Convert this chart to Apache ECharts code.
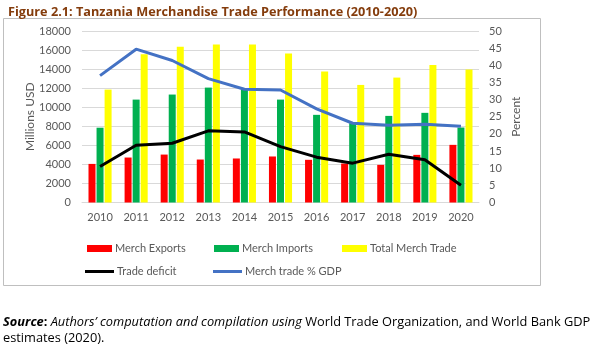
<!DOCTYPE html>
<html><head><meta charset="utf-8">
<script src="https://cdn.jsdelivr.net/npm/echarts@6/dist/echarts.min.js"></script>
<style>html,body{margin:0;padding:0;background:#fff}#c{width:606px;height:345px}</style>
</head><body><div id="c"></div>
<script>
const years = ['2010','2011','2012','2013','2014','2015','2016','2017','2018','2019','2020'];
const exportsV = [4050,4720,5030,4510,4620,4830,4480,4090,3950,5000,6050];
const importsV = [7850,10800,11330,12060,11900,10800,9200,8320,9090,9410,7870];
const totalV = [11850,15560,16360,16570,16570,15630,13740,12340,13110,14440,13950];
const deficitV = [3780,6010,6220,7520,7410,5870,4760,4130,5070,4480,1820];
const pctGdpV = [37.0,44.7,41.4,36.1,33.0,32.8,27.3,23.1,22.5,22.8,22.2];

const FONT = 'Lato';
const gray = '#595959';
const chart = echarts.init(document.getElementById('c'));
function leg(name, left, top, w, h) {
  return { data:[name], left:left, top:top, icon:'rect', itemWidth:w, itemHeight:h, itemGap:0,
    textStyle:{color:gray, fontSize:11, fontFamily:FONT, padding:[0,0,0,-2]}, selectedMode:false };
}
chart.setOption({
  animation:false,
  textStyle:{fontFamily:FONT},
  title:{text:'Figure 2.1: Tanzania Merchandise Trade Performance (2010-2020)', left:3, top:1,
    textStyle:{color:'#843C0C', fontSize:12.7, fontWeight:'bold', fontFamily:'Open Sans'}},
  grid:{left:82, right:127, top:31, bottom:142.5},
  legend:[
    leg('Merch Exports', 82, 238, 25, 7),
    leg('Merch Imports', 209, 238, 25, 7),
    leg('Total Merch Trade', 337, 238, 25, 7),
    leg('Trade deficit', 80, 261, 29, 3),
    leg('Merch trade % GDP', 208, 261, 29, 3)
  ],
  xAxis:{type:'category', data:years,
    axisLine:{lineStyle:{color:'#d9d9d9'}}, axisTick:{show:false},
    axisLabel:{color:gray, fontSize:11, fontFamily:FONT, margin:9}},
  yAxis:[
    {type:'value', min:0, max:18000, interval:2000, name:'Millions USD', nameLocation:'middle', nameGap:46,
      nameMoveOverlap:false,
      nameTextStyle:{color:gray, fontSize:12, fontFamily:FONT},
      axisLabel:{color:gray, fontSize:11, fontFamily:FONT, margin:11, formatter:function(v){return String(v);}},
      splitLine:{lineStyle:{color:'#d9d9d9'}}},
    {type:'value', min:0, max:50, interval:5, name:'Percent', nameLocation:'middle', nameGap:31, nameRotate:90,
      nameMoveOverlap:false,
      nameTextStyle:{color:gray, fontSize:12, fontFamily:FONT},
      axisLabel:{color:gray, fontSize:11, fontFamily:FONT, margin:10},
      splitLine:{show:false}}
  ],
  series:[
    {name:'Merch Exports', type:'bar', data:exportsV, barWidth:7, barGap:'15%', itemStyle:{color:'#FF0000'}},
    {name:'Merch Imports', type:'bar', data:importsV, barWidth:7, barGap:'15%', itemStyle:{color:'#00B050'}},
    {name:'Total Merch Trade', type:'bar', data:totalV, barWidth:7, barGap:'15%', itemStyle:{color:'#FFFF00'}},
    {name:'Trade deficit', type:'line', data:deficitV, showSymbol:false, symbol:'none', color:'#000000',
      lineStyle:{color:'#000000', width:3}, z:5},
    {name:'Merch trade % GDP', type:'line', yAxisIndex:1, data:pctGdpV, showSymbol:false, symbol:'none', color:'#4472C4',
      lineStyle:{color:'#4472C4', width:3}, z:5}
  ],
  graphic:[
    {type:'rect', shape:{x:3.5, y:18.5, width:537, height:267}, style:{fill:'none', stroke:'#bfbfbf', lineWidth:1}, z:-1},
    {type:'text', left:3, top:314, style:{
      text:'{b|Source}{bn|:} {i|Authors\u2019 computation and compilation using} {n|World Trade Organization, and World Bank GDP}\n{n|estimates (2020).}',
      lineHeight:16,
      rich:{
        b:{fontFamily:'Open Sans', fontSize:12.8, fontWeight:'bold', fontStyle:'italic', fill:'#000'},
        bn:{fontFamily:'Open Sans', fontSize:12.8, fontWeight:'bold', fill:'#000'},
        i:{fontFamily:'Open Sans', fontSize:12.8, fontStyle:'italic', fill:'#000'},
        n:{fontFamily:'Open Sans', fontSize:12.8, fill:'#000'}
      }}}
  ]
});
</script></body></html>
